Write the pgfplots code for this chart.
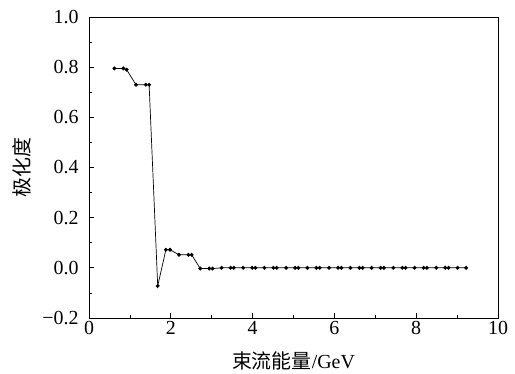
\documentclass[border=0pt]{standalone}
\usepackage{fontspec}
\setmainfont{Liberation Serif}
\newfontfamily\cjk{Noto Sans CJK SC}
\usepackage{pgfplots}
\pgfplotsset{compat=1.18}
\begin{document}
\begin{tikzpicture}
\begin{axis}[
  name=main,
  scale only axis,
  width=409bp, height=301bp,
  xmin=0, xmax=10, ymin=-0.2, ymax=1.0,
  xtick={0,2,4,6,8,10},
  minor xtick={1,3,5,7,9},
  ytick={-0.2,0,0.2,0.4,0.6,0.8,1.0},
  yticklabels={−0.2,0.0,0.2,0.4,0.6,0.8,1.0},
  minor ytick={-0.1,0.1,0.3,0.5,0.7,0.9},
  /pgf/number format/assume math mode=true,
  tick align=inside,
  xtick pos=bottom, ytick pos=left,
  major tick length=5bp, minor tick length=3bp,
  tick style={black, line width=0.7pt},
  axis line style={line width=0.8pt},
  tick label style={font=\fontsize{20}{24}\selectfont},
  yticklabel style={xshift=-7bp},
  xlabel={{\cjk 束流能量}/GeV},
  ylabel={\cjk 极化度},
  label style={font=\fontsize{20}{24}\selectfont},
  xlabel style={at={(axis description cs:0.5,0)}, anchor=center, yshift=-43bp},
  ylabel style={at={(axis description cs:0,0.5)}, anchor=center, yshift=67bp},
]
\addplot[black, line width=0.7pt, mark=*, mark size=1.6pt] coordinates {
(0.62,0.795) (0.84,0.795) (0.92,0.79)
(1.15,0.73) (1.39,0.73) (1.47,0.73)
(1.68,-0.072) (1.88,0.072) (1.98,0.072)
(2.20,0.052) (2.43,0.052) (2.51,0.052)
(2.72,-0.003) (2.94,-0.003) (3.02,-0.003)
(3.24,0) (3.46,0) (3.54,0)
(3.77,0) (3.99,0) (4.07,0)
(4.29,0) (4.51,0) (4.59,0)
(4.82,0) (5.04,0) (5.12,0)
(5.34,0) (5.56,0) (5.64,0)
(5.87,0) (6.09,0) (6.17,0)
(6.39,0) (6.61,0) (6.69,0)
(6.91,0) (7.13,0) (7.21,0)
(7.44,0) (7.66,0) (7.74,0)
(7.96,0) (8.18,0) (8.26,0)
(8.49,0) (8.71,0) (8.79,0)
(9.01,0) (9.22,0)
};
\end{axis}
\path (main.south west) ++(-89bp,-54bp) coordinate (bl);
\path (main.north east) ++(17bp,17bp) coordinate (tr);
\path[use as bounding box] (bl) rectangle (tr);
\end{tikzpicture}
\end{document}
